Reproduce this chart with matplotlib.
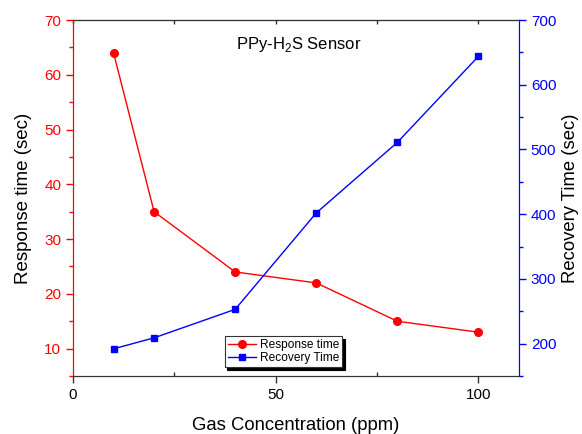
import matplotlib
matplotlib.use('Agg')
import matplotlib.pyplot as plt
from matplotlib.ticker import MultipleLocator

plt.rcParams['font.family'] = ['Liberation Sans', 'DejaVu Sans']
plt.rcParams['mathtext.fontset'] = 'custom'
plt.rcParams['mathtext.rm'] = 'Liberation Sans'

# data
conc = [10, 20, 40, 60, 80, 100]
response_time = [64, 35, 24, 22, 15, 13]
recovery_time = [192, 209, 253, 402, 511, 644]

fig = plt.figure(figsize=(5.82, 4.34), dpi=100)
ax = fig.add_axes([0.1254, 0.1336, 0.7664, 0.8203])
ax2 = ax.twinx()

l1, = ax.plot(conc, response_time, '-o', color='red', lw=1,
              markersize=5.5, markeredgecolor='red', label='Response time')
l2, = ax2.plot(conc, recovery_time, '-s', color='blue', lw=1,
               markersize=5, markeredgecolor='blue', label='Recovery Time')

ax.set_xlim(0, 110)
ax.set_ylim(5, 70)
ax2.set_ylim(150, 700)

ax.xaxis.set_major_locator(MultipleLocator(50))
ax.xaxis.set_minor_locator(MultipleLocator(25))
ax.yaxis.set_major_locator(MultipleLocator(10))
ax.yaxis.set_minor_locator(MultipleLocator(5))
ax2.yaxis.set_major_locator(MultipleLocator(100))
ax2.yaxis.set_minor_locator(MultipleLocator(50))

# spines
for a in (ax, ax2):
    a.spines['left'].set_color('red')
    a.spines['right'].set_color('blue')
    a.spines['top'].set_color('#333333')
    a.spines['bottom'].set_color('#333333')

# ticks
ax.tick_params(axis='x', which='major', direction='out', length=5, width=1,
               labelsize=11, color='#333333')
ax.tick_params(axis='x', which='minor', direction='in', length=3, width=1,
               color='#333333')
ax.tick_params(axis='y', which='major', direction='out', length=5, width=1,
               colors='red', labelsize=11)
ax.tick_params(axis='y', which='minor', direction='out', length=3, width=1,
               color='red')
ax2.tick_params(axis='y', which='major', direction='out', length=5, width=1,
                colors='blue', labelsize=11)
ax2.tick_params(axis='y', which='minor', direction='out', length=3, width=1,
                color='blue')

# top ticks point inward
sec = ax.secondary_xaxis('top')
sec.xaxis.set_major_locator(MultipleLocator(25))
sec.tick_params(direction='in', length=3, width=1, color='#333333', labelsize=0)
sec.set_xticklabels([])
sec.spines['top'].set_color('#333333')

ax.set_xlabel('Gas Concentration (ppm)', fontsize=13.3, labelpad=11)
ax.set_ylabel('Response time (sec)', fontsize=13.5, labelpad=9)
ax2.set_ylabel('Recovery Time (sec)', fontsize=13.3, labelpad=4)

ax.text(0.505, 0.93, r'PPy-H$_\mathregular{2}$S Sensor', transform=ax.transAxes,
        ha='center', va='center', fontsize=12)

leg = ax2.legend(handles=[l1, l2], loc='lower center',
                 bbox_to_anchor=(0.472, 0.025), fontsize=8.6, frameon=True,
                 fancybox=False, shadow={'color': 'black', 'alpha': 1},
                 handlelength=2.4, borderpad=0.25, labelspacing=0.1,
                 handletextpad=0.3, borderaxespad=0)
leg.get_frame().set_edgecolor('#333333')
leg.get_frame().set_linewidth(0.8)

fig.savefig('out.png', dpi=100)
